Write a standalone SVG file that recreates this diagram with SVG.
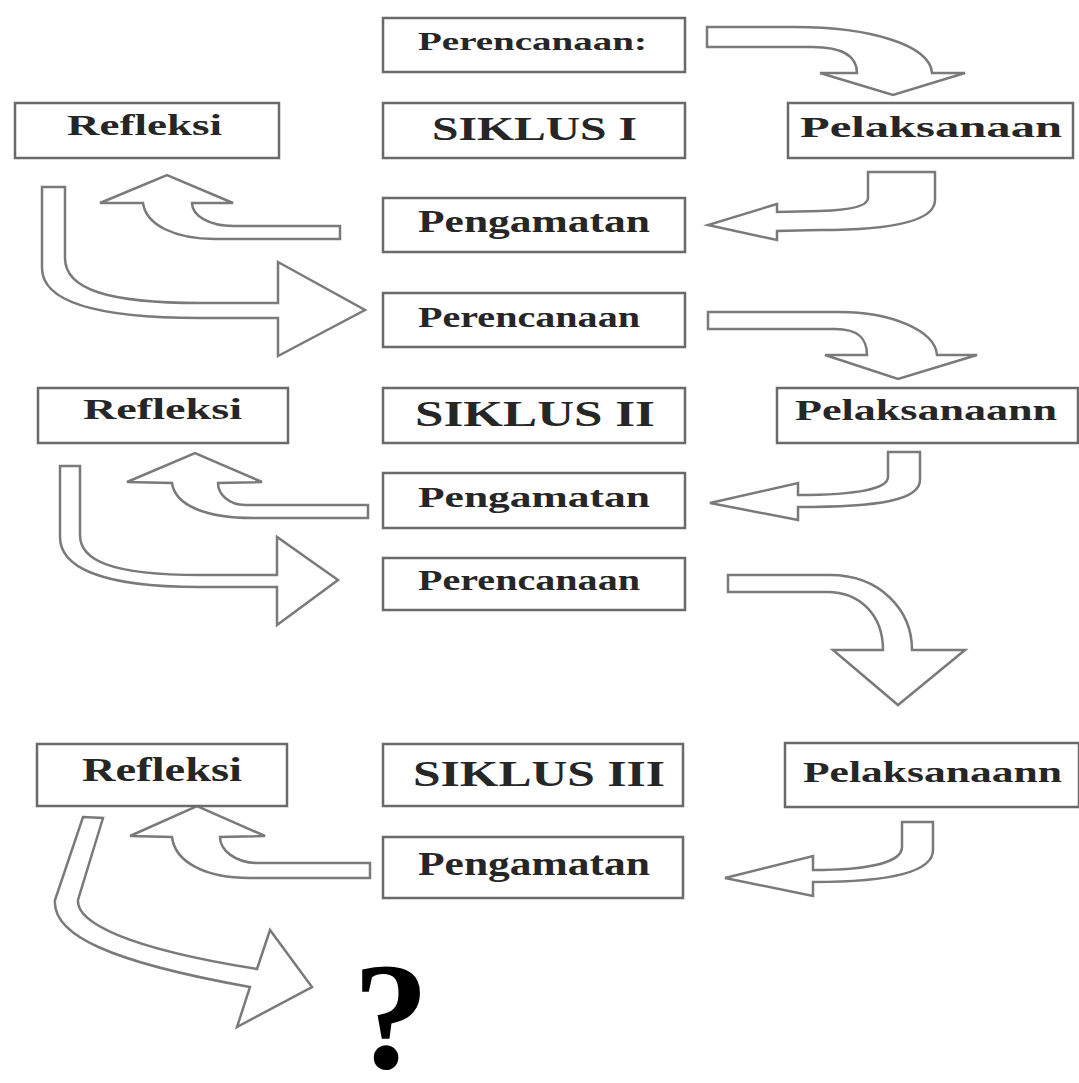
<svg xmlns="http://www.w3.org/2000/svg" width="1079" height="1083" viewBox="0 0 1079 1083">
<defs>
<style>
.box{fill:#fff;stroke:#6a6a6a;stroke-width:2.5}
.arr{fill:#fff;stroke:#7a7a7a;stroke-width:2.5;stroke-linejoin:miter}
.t{font-family:"Liberation Serif","Times New Roman",serif;fill:#262626;font-weight:bold}
.q{font-family:"Liberation Serif","Times New Roman",serif;fill:#000;font-weight:bold;font-size:152px;text-anchor:middle}
</style>
</defs>
<rect width="1079" height="1083" fill="#fff"/>
<g id="connectors">
<path class="arr" d="M707,27 L795,27 C870,27 930,45 932,73 L965,73 L893,95 L820,73 L857,73 C857,56 843,47 812,47 L707,47 Z"/>
<path class="arr" d="M868,172 L935,172 L935,200 C935,222 890,230 820,230 L777,231 L777,240 L708,225 L777,204 L777,212 L820,211 C855,210 868,205 868,198 Z"/>
<path class="arr" d="M340,226 L233,226 C210,226 192,216 192,203 L233,203 L167,175 L100,203 L143,203 C146,225 175,239 215,239 L340,239 Z"/>
<path class="arr" d="M42,187 L65,187 L65,258 C65,290 110,303 200,303 L278,303 L278,262 L365,310 L278,356 L278,318 L200,318 C90,318 42,300 42,268 Z"/>
<path class="arr" d="M708,312 L840,312 C890,312 935,330 937,355 L977,355 L898,379 L825,355 L867,355 C867,338 858,329 835,329 L708,329 Z"/>
<path class="arr" d="M888,452 L920,452 L920,480 C920,500 880,507 798,507 L798,520 L710,503 L798,483 L798,495 C860,495 888,488 888,477 Z"/>
<path class="arr" d="M368,505 L245,505 C230,505 218,495 218,483 L262,482 L195,453 L127,482 L172,483 C175,505 205,518 253,518 L368,518 Z"/>
<path class="arr" d="M60,466 L80,466 L80,535 C80,560 110,575 200,575 L277,575 L277,537 L338,580 L277,625 L277,587 L200,587 C95,587 60,565 60,537 Z"/>
<path class="arr" d="M728,575 L830,575 C880,575 912,610 912,650 L965,650 L898,705 L833,650 L883,650 C883,615 860,592 827,592 L728,592 Z"/>
<path class="arr" d="M902,822 L933,822 L933,850 C933,872 890,882 813,882 L813,896 L725,878 L813,856 L813,870 C870,870 902,862 902,847 Z"/>
<path class="arr" d="M370,863 L258,863 C235,863 220,850 220,837 L265,836 L197,806 L130,836 L172,837 C175,862 205,878 250,878 L370,878 Z"/>
<path class="arr" d="M83,817 L103,818 L78,900 C76,922 125,948 257,969 L270,930 L312,987 L237,1027 L250,987 C110,962 52,935 55,900 Z"/>
</g>
<g id="perencanaan1"><rect class="box" x="383" y="18" width="302" height="54"/><text class="t" x="418" y="50" font-size="25" textLength="229" lengthAdjust="spacingAndGlyphs">Perencanaan:</text></g>
<g id="siklus1"><rect class="box" x="383" y="103" width="302" height="55"/><text class="t" x="432" y="140" font-size="33" textLength="205" lengthAdjust="spacingAndGlyphs">SIKLUS I</text></g>
<g id="refleksi1"><rect class="box" x="15" y="103" width="264" height="55"/><text class="t" x="67" y="135" font-size="29" textLength="155" lengthAdjust="spacingAndGlyphs">Refleksi</text></g>
<g id="pelaksanaan1"><rect class="box" x="788" y="103" width="285" height="55"/><text class="t" x="800" y="137" font-size="29" textLength="262" lengthAdjust="spacingAndGlyphs">Pelaksanaan</text></g>
<g id="pengamatan1"><rect class="box" x="383" y="198" width="302" height="54"/><text class="t" x="418" y="232" font-size="31" textLength="232" lengthAdjust="spacingAndGlyphs">Pengamatan</text></g>
<g id="perencanaan2"><rect class="box" x="383" y="293" width="302" height="54"/><text class="t" x="418" y="327" font-size="29" textLength="222" lengthAdjust="spacingAndGlyphs">Perencanaan</text></g>
<g id="refleksi2"><rect class="box" x="38" y="388" width="250" height="55"/><text class="t" x="83" y="419" font-size="29" textLength="159" lengthAdjust="spacingAndGlyphs">Refleksi</text></g>
<g id="siklus2"><rect class="box" x="383" y="388" width="302" height="55"/><text class="t" x="415" y="426" font-size="35" textLength="240" lengthAdjust="spacingAndGlyphs">SIKLUS II</text></g>
<g id="pelaksanaann2"><rect class="box" x="777" y="388" width="301" height="55"/><text class="t" x="795" y="420" font-size="29" textLength="262" lengthAdjust="spacingAndGlyphs">Pelaksanaann</text></g>
<g id="pengamatan2"><rect class="box" x="383" y="473" width="302" height="55"/><text class="t" x="418" y="507" font-size="30" textLength="232" lengthAdjust="spacingAndGlyphs">Pengamatan</text></g>
<g id="perencanaan3"><rect class="box" x="383" y="558" width="302" height="52"/><text class="t" x="418" y="590" font-size="29" textLength="222" lengthAdjust="spacingAndGlyphs">Perencanaan</text></g>
<g id="refleksi3"><rect class="box" x="37" y="744" width="250" height="62"/><text class="t" x="82" y="781" font-size="34" textLength="160" lengthAdjust="spacingAndGlyphs">Refleksi</text></g>
<g id="siklus3"><rect class="box" x="383" y="744" width="300" height="62"/><text class="t" x="413" y="786" font-size="36" textLength="252" lengthAdjust="spacingAndGlyphs">SIKLUS III</text></g>
<g id="pelaksanaann3"><rect class="box" x="785" y="743" width="294" height="64"/><text class="t" x="803" y="782" font-size="30" textLength="259" lengthAdjust="spacingAndGlyphs">Pelaksanaann</text></g>
<g id="pengamatan3"><rect class="box" x="383" y="837" width="300" height="61"/><text class="t" x="418" y="875" font-size="33" textLength="232" lengthAdjust="spacingAndGlyphs">Pengamatan</text></g>
<g id="question"><text class="q" x="391" y="1068">?</text></g>
</svg>
